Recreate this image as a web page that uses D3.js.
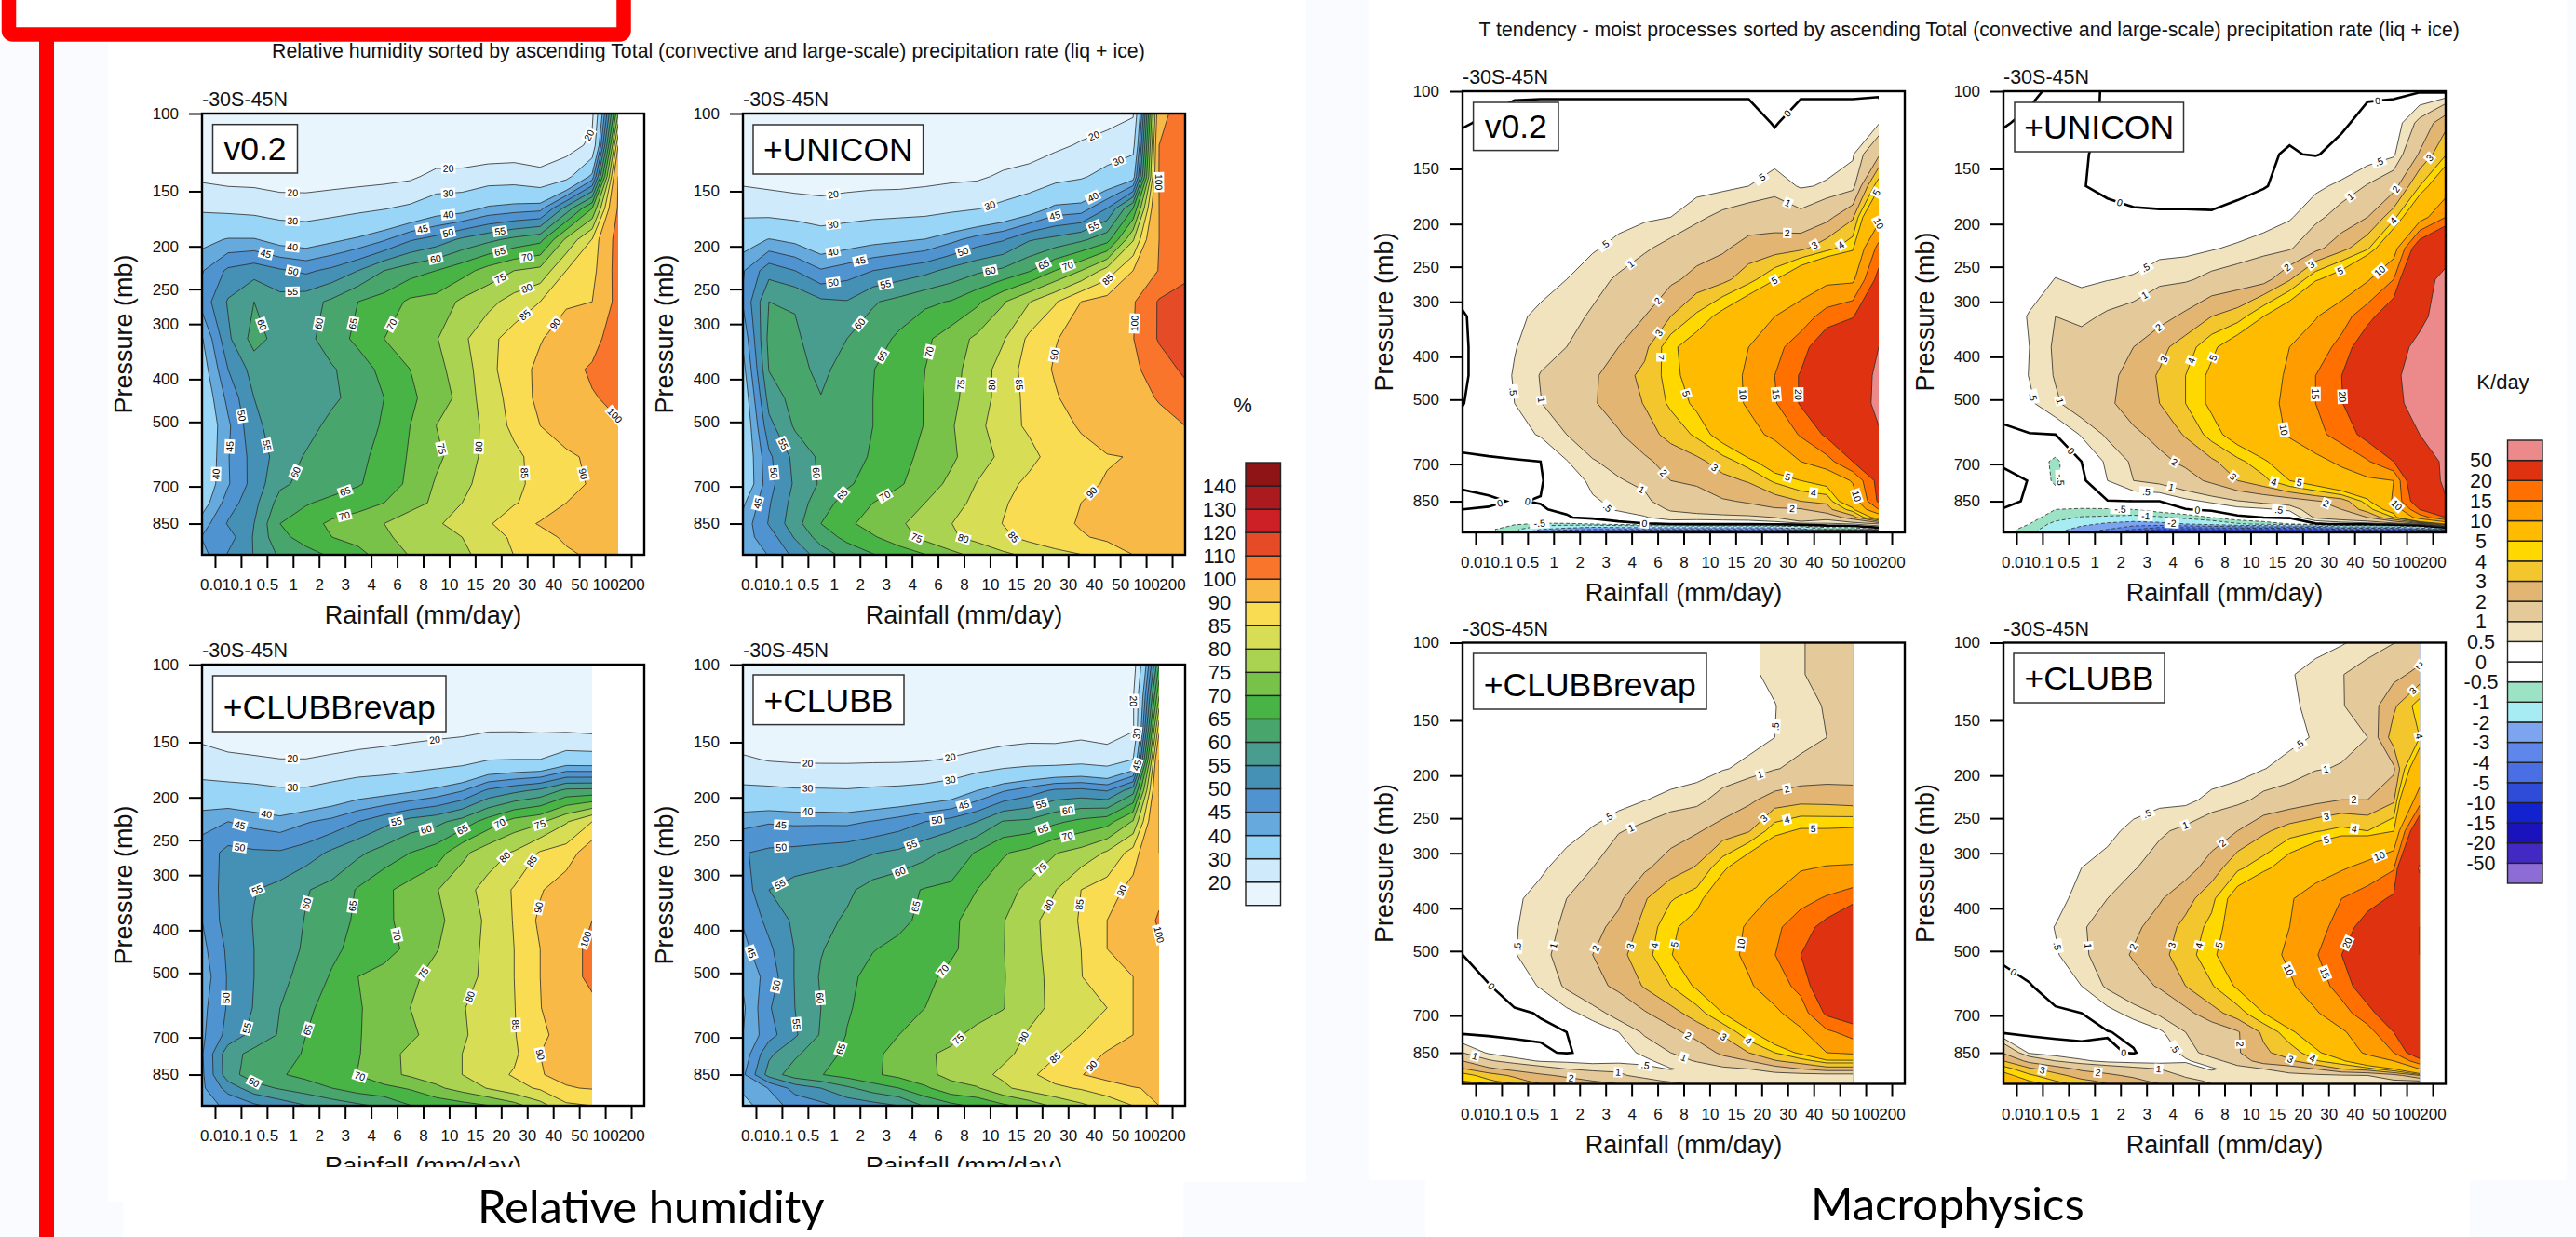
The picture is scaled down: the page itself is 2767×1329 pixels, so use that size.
<!DOCTYPE html>
<html>
<head>
<meta charset="utf-8">
<script src="https://cdn.jsdelivr.net/npm/d3@7"></script>
<style>
html, body { margin: 0; padding: 0; background: #fafbfe; }
svg { display: block; font-family: "Liberation Sans", Arial, sans-serif; }
</style>
</head>
<body>
<div id="chart"></div>
<script>
const rainTicks = ['0.01','0.1','0.5','1','2','3','4','6','8','10','15','20','30','40','50','100','200'];
const pressureTicks = [100,150,200,250,300,400,500,700,850];
const rhRows = [100,118,139,164,193,227,267,324,380,441,510,600,691,763,850,912,1000];
const tRows = [100,118,139,164,193,227,267,324,380,441,510,600,691,763,850,887,925,957,985,1000];

const rhLevels = [20,30,40,45,50,55,60,65,70,75,80,85,90,100,110,120,130,140];
const rhColors = ['#e8f5fc','#cfeafb','#98d5f6','#65a9dd','#4f93d0','#4590b5','#489d8f','#48a66c','#47b445','#79c24a','#a9d350','#d8dd56','#fadc52','#f8b946','#f9752b','#e54b26','#cc1f26','#ab1a1e','#8f1415'];
const tLevels = [-50,-20,-15,-10,-5,-4,-3,-2,-1,-0.5,0,0.5,1,2,3,4,5,10,15,20,50];
const tColors = ['#8d6cd6','#4229c4','#1a12bc','#1322cf','#2e4cd8','#4a6fe4','#5f86ea','#7da5ef','#a6ecf2','#9be3c4','#ffffff','#ffffff','#f1e3bd','#e4c99b','#e3b572','#f4c62e','#ffd800','#ffbb00','#ff9d00','#ff7000','#df3211','#ec8a8b'];

const rhV02 = [
[10,10,10,10,10,10,10,10,10,10,10,10,10,10,12,18,75],
[12,12,12,12,12,12,12,12,12,12,12,12,13,13,16,22,90],
[18,16.5,16.3,14.7,14.6,15.5,16.2,17,18.3,22.8,23,25.5,25.7,23,27,42,100],
[28.8,27.9,27,25.4,25.2,26.4,28,29.5,31.8,36,37.2,41,42.4,43.3,57,70,101],
[38,40.5,40.5,37.5,36.5,38.7,41,44.4,49.4,52,56,58.7,61.4,63.5,76,85.2,104],
[44.6,51,53,50.7,49,51.3,55,60,62.8,65,68,72,75,76.5,85,87.3,104],
[47,55.5,60,57,58,61,65,67,71,71.8,76,78.5,82,85,89.5,90,103],
[39.5,54,62,58,58.5,62.6,66.2,70,72.3,74.7,78.9,83.6,87,89.7,92,94,110],
[37,50,57,57,58,59.5,62.5,66.5,70,73.5,77.5,83.4,88,91,95,102,106],
[35,46.5,55,57,58,59,62,65,69,72.5,76.5,83,86.5,91.5,94,99,103],
[34,44,54,57,58,61.5,63,65.5,70,75,78,81,86.5,90,92,94.5,99],
[34,44.7,52,57,60.5,62,63.5,67,70.5,74,77.5,81.5,83.5,87.5,89.3,90.7,97],
[35,44.5,52,59,61.5,62.5,64.5,67.5,71,75.5,78.5,82.5,83.5,87,88.5,90.5,94],
[37,47.5,53.5,62,64.5,66.5,68,70,73,76,80,82,84.7,86.5,90,91,92],
[42.5,50.5,55,65,68,71,72.5,75,78,79.5,81.5,84.5,87.5,90.5,92,93,93],
[45.3,47.7,55.5,63.6,67,70,71.5,74,77,78.5,80,82.5,86,88,91,92,92],
[43,50.5,55.2,60.8,63.2,65.8,68.6,72,75.3,77.2,79,81.8,85.1,87,89,91,92]];

const rhUnicon = [
[10,10,10,10,10,10,10,10,10,10,11,12,13,14,15,19,97,105],
[12,12,12,12,12,12,12,12,13,13,14,15,18,21,24.5,27,100,108],
[17,16,15,14.5,15.5,16,16,17,18,18.5,21.5,23.5,27,29,33,37,100.5,109],
[27,25.7,24.5,23.5,24.5,25.5,26,26.5,28,29.5,32.5,36,41.5,42.3,50,65,100,107],
[36.7,40.3,38.5,35,36.5,38,39,40.2,43.5,47.2,49.5,54.5,56.5,59,63,79.5,100,106],
[44.5,53,50,45.5,47.5,50,51.7,53.5,56.5,59,61,64.5,70,75,82,90,100.5,106],
[45.5,60,59.5,56,55.3,59.5,61.5,64,65.3,69,74.5,79.7,84.5,90,92,99,111,116],
[41,61.5,61,57,60,62.5,66,69,72.5,76,79.5,86,89.7,92,95,99.7,111,118],
[38,60.2,62,58.5,62.5,64.8,68,70,73.5,77,82.2,87,90.5,93,95.5,98,105,112],
[35.5,57,62,60.2,62.5,65,67.5,70.2,73.8,77.5,82,86.5,89.5,92.5,95,97.5,100.5,106],
[34,53.5,60.7,62.5,63.5,65,67.5,70.2,74.5,78.5,83,85.8,88.2,90.5,93,95,98,100],
[34,49,56.5,61,63.2,65.5,68,71.5,74,78,81,83.5,87,88.5,89.7,90.2,92,93],
[34,48.2,55.8,60.7,64.3,67,69.4,72.5,76.2,80.2,83.2,86.2,87.7,89.2,90.3,92,93,93],
[39,49.5,57,62.8,67,70,72.5,75,77.7,81.5,84.6,86.5,88.2,90,92,93,93.5,93.5],
[42,50.4,58,65,69,72,74.3,77,79.9,82.4,85.1,86.8,88.5,90.5,92.5,94,94,94],
[43,47.5,55.5,62.2,66.5,69.5,72.5,76.5,79.3,81.5,84,86.5,88.5,89.5,91,92.5,93,93],
[42,45.2,51.3,57.5,61.7,64.7,67.5,69.8,73.5,76.4,79,81,83.2,84.9,87,90,91,91]];

const rhRevap = [
[10,10,10,10,10,10,10,10,10,10,10,10,10,10,10,10],
[12,12,12,12,12,12,12,12,12,12,12,12,12,12,12,12],
[16.5,15,14.5,14,14,15,15.5,16,16.5,17,17.5,18.5,18.5,18,17.5,16.5],
[23.2,21.5,20.8,20.1,20.1,21,22,22.7,23.8,25,26.2,29.5,30,30,34.8,34.5],
[33.7,33.3,32.5,31.2,31.2,33.5,36,37.2,39,41.4,44.7,51,53.7,56.2,61.3,61.6],
[43.5,45,43.3,42,44.5,46.5,50,53.5,57,58.6,62,67.2,72,74,79.5,85],
[47,51.5,50.8,50.6,52.4,56,59,62,65,67.5,73.7,78,80.5,85.5,87.2,93.5],
[47.5,51.5,54.8,56.5,59.7,61.5,65.5,69,71.8,74.7,78.4,81.5,85.5,89.5,93,98],
[45,52.5,55.2,57,60.3,62.5,66,69.3,71.2,74,77,81,85.3,91,96,100],
[43.5,51,55,56.8,61,64,66.5,68,71.3,74.7,78,81,85,90,95,103],
[42,50.5,55,58.5,62,65.5,70,71.8,74,76.5,78.5,81,85,90,95,103],
[43.5,50.6,55.3,60,63.7,67.5,69.6,72,75,77.5,79.7,82,84.8,89.8,94,97],
[44,51.7,56.8,60.5,65,67.8,69.7,72,74,77,79.5,81.7,84.7,88.7,92.5,93],
[44.5,58,61.5,63,65.5,66.7,69.7,73,76.2,78.2,80,82.5,84,90,91,91.5],
[44,58,62.5,64.5,66.5,68.7,70.2,73.4,75.8,77.5,80,83,85.5,89.8,91,91],
[44,52,58,60.5,62.5,65,67.5,68.7,70.5,74,77,80.3,83.3,85.7,89.7,90.3],
[43,46,49,52,54.8,57,59,61,64.8,66.5,68,69.8,73,78,84,85]];

const rhClubb = [
[10,10,10,10,10,10,10,10,10,10,10,10,10,10,11,15,65],
[10,10,10,10,10,10,10,10,10,10,10,10,10,10,12,19,75],
[12,10.5,10,10,10,10,10,10.5,11.5,13,14.5,15,15,16,15,18.5,88],
[21.4,19.3,18.6,18.4,18.4,18.6,18.7,19.2,20.7,22.5,24,25.2,25,26.3,24.5,30,100],
[32,31.8,31,31,30.7,31.5,32,33,35,40,44.5,47.5,51,51.5,49.7,58,100],
[43.5,44.5,44,44,43.8,45.3,47.3,50,52,55,60.3,61,64,66.3,68,75.5,100],
[49.7,51,51.5,52.3,53.2,54.7,56,58.5,61.5,65.5,69.5,71.5,74.7,76.8,80.7,87,100],
[47,55,57,58,59,62,63.7,65.3,66,70,73,76.3,79.8,85,87.3,92,98],
[45.5,51.5,56,58.5,60.7,62.7,64,66,69,72,74.7,78.8,81.7,85.5,90,94,101],
[43.5,49,55.2,59.7,62,64.8,66,67.5,69.3,71.8,74.8,78.5,81.7,85,90,95,99],
[41,47,55.3,60.5,64,66.3,67.7,69,71,72.8,74.7,78,81.5,84.8,89,90,96],
[39,49.5,55,60,64.5,66.8,68.3,70,71.7,73,74.8,78.5,81,83.3,85,90,93],
[40,48,54.3,60.5,65.2,68,70,72.5,74,76.3,77.5,80.5,83,85,87.5,90,92],
[41.5,54,59,63.5,65.7,69,71.5,74.5,75.7,77.3,79,81.3,84.5,87.5,90.5,91,91.5],
[44,57,62.8,64.8,67,69.2,71.5,73.9,76.2,78.6,80.9,84,87.2,89.8,92,92,92],
[41,45.2,52,55,59,62.5,65,69,73.5,74.5,79,82,84,85.5,87.5,89.8,90.5],
[38,43,46.5,48.5,51.5,53,55,60.5,63.5,66,69,72,76,79,82,85,90]];

const tV02 = [
[-.1,-.1,-.1,-.1,-.1,-.1,-.1,-.1,-.1,-.1,-.1,-.1,-.1,-.1,-.1,-.1,-.1],
[-.03,.05,.25,.3,.3,.3,.3,.3,.3,.3,.3,.3,-.05,.3,.3,.3,.45],
[.15,.2,.2,.2,.2,.2,.2,.2,.2,.25,.25,.3,.3,.3,.3,.45,1.8],
[.1,.15,.2,.2,.2,.2,.2,.25,.25,.3,.35,.5,.74,.45,.55,.7,4.7],
[.1,.15,.2,.2,.25,.3,.35,.42,.5,.85,1.2,1.43,1.5,1.2,1.7,2.85,8.4],
[.1,.15,.2,.2,.3,.45,.63,.9,1.25,1.6,1.85,2.4,2.5,2.75,3.6,4.7,16.6],
[.1,.1,.2,.25,.5,.75,1.1,1.5,1.8,2.3,2.7,3.6,4.9,6.8,8.7,9,22],
[-.02,.1,.35,.65,.75,1.1,1.6,2,3,4.2,5.5,7,10,12.5,17,19.5,30],
[-.03,.1,.47,.8,1,1.4,2,2.7,4.7,5.8,8.5,10,13.5,17.5,25,30,50],
[-.03,.1,.55,1.03,1.5,1.85,2.5,3.3,4.4,6,8.5,10.5,15,20.5,27,35,55],
[-.01,.15,.5,.98,1.4,1.9,2.45,3.05,4.2,5.3,8,10.5,14.5,20.5,28,38,55],
[.1,.2,.3,.55,1,1.4,1.9,2.6,3.3,4.2,5.7,8.5,11,15.5,21,32,48],
[-.05,-.05,-.03,0,.47,.95,1.2,1.8,2.4,2.7,3.5,4.5,6.2,10,13,20,30],
[-.04,-.05,-.05,-.03,.25,.6,.95,1.15,2,2.15,2.7,3.1,4.2,5,5.7,10.5,22],
[.05,.02,-.01,.01,.1,.45,.6,.85,1.4,1.6,1.9,2.1,2.4,3,3.2,7,21],
[0,-.01,-.01,-.02,.05,.4,.55,.75,1.05,1.3,1.5,1.7,1.9,1.9,2.6,4.5,15],
[-.1,-.1,-.15,-.15,-.03,.1,.3,.45,.8,.7,.75,.8,1,2,1.3,2.5,6],
[-.2,-.3,-.45,-.55,-.55,-.5,-.2,-.05,0,.1,.1,.1,.2,.3,.4,.5,1],
[-.3,-.4,-.8,-2,-2.5,-3,-3,-3,-3,-3,-3,-3,-3,-2.5,-1,-1,-.5],
[-.3,-.4,-.6,-4,-5,-5,-6,-7,-8,-8,-8,-7,-8,-10,-12,-12,-15]];

const tUnicon = [
[-.1,-.05,.05,.05,-.02,-.05,-.05,-.05,-.05,-.05,-.05,-.05,-.05,-.05,-.05,-.05,-.05,-.1],
[-.02,.05,.1,.1,-.05,-.05,-.05,-.05,-.05,-.05,-.05,-.05,-.05,-.05,.1,.15,1.2,2.7],
[.1,.1,.1,.02,-.05,-.05,-.05,-.05,-.05,-.05,-.03,.02,-.02,.1,.2,.4,2.1,3.9],
[.1,.1,.15,.01,-.05,-.05,-.05,-.05,-.05,-.05,-.02,.1,.4,.6,1.05,1.6,4,7],
[.1,.1,.15,.2,.075,.024,.0175,.0175,.015,.06,.2,.45,.8,1.35,2,3.6,7.5,15],
[.1,.15,.2,.25,.25,.25,.3,.35,.45,.6,.8,.9,1.7,2.65,3.8,7.5,25,33],
[.1,.2,.52,.4,.48,.55,.85,.9,1.2,1.4,1.6,2.9,4.8,6,9.5,15,35,60],
[.1,.55,1,.85,1.1,1.3,1.65,2.2,3,3.5,5,6.5,9.7,13,18,25,40,70],
[.1,.5,1.1,1.3,1.5,2,2.7,3.5,4.7,6,7.5,10,12.5,16.5,25,35,60,75],
[.1,.52,1.05,1.4,1.7,2.4,3.1,4,5.3,6.5,8.5,10.5,15,20,30,42,70,80],
[.1,.4,.9,1.4,1.8,2.5,3,4,5.3,6.6,8.5,11,15,19.5,30,40,65,80],
[-.05,-.02,0,.55,1.1,1.8,2.3,3.1,4.4,5.8,7.8,10.5,13.5,17,22,30,50,70],
[-.05,-.2,-.6,0,.6,1.1,1.75,2.2,2.8,3.7,4.7,6.5,8.5,11,14.5,20,35,55],
[.1,-.01,-.6,-.1,.5,1,1.2,1.6,2.2,3,3.7,5,6,7.5,9,10,30,55],
[.1,-.05,-.2,-.15,-.02,0,0,.35,.6,.95,1.2,1.4,1.9,2.4,4.5,10.5,25,48],
[-.02,-.3,-.5,-.55,-.55,-.5,-.2,-.02,.1,.3,.4,.6,1.5,2,3.5,6,20,35],
[-.1,-.3,-.75,-1.05,-1.1,-1.2,-1.1,-.8,-.5,-.1,0,.05,1.1,1.5,2,4,12,20],
[-.2,-.5,-1.2,-1.7,-2.2,-2.5,-2.3,-2,-1.6,-1.1,-.8,-.5,-.1,.1,.2,.5,1,5],
[-.3,-.7,-1.5,-2.5,-3,-4,-5,-5,-5,-5,-5,-5,-5,-4,-4,-4,-3,-3],
[-.3,-.8,-1.8,-3,-4,-6,-8,-8,-9,-10,-10,-10,-10,-10,-11,-12,-14,-16]];

const tRevap = [
[.1,.1,.1,.1,.1,.1,.1,.1,.1,.2,.3,.4,.63,.95,1.25,1.4],
[.1,.1,.1,.1,.1,.1,.1,.1,.1,.2,.3,.4,.63,.95,1.25,1.4],
[.1,.1,.1,.1,.1,.1,.1,.1,.1,.2,.25,.35,.48,.8,1.05,1.3],
[.1,.1,.1,.1,.1,.1,.1,.1,.1,.15,.2,.3,.5,.78,1,1.3],
[.1,.1,.1,.1,.1,.1,.1,.1,.2,.3,.45,.65,.95,1.2,1.4,1.5],
[.1,.1,.1,.1,.15,.2,.25,.48,.65,.75,1.35,1.8,2.4,2.65,2.6,2.45],
[.1,.1,.1,.2,.3,.55,.95,1.2,1.55,1.9,2.4,2.9,4.6,5.2,5.2,5.3],
[.1,.1,.2,.4,.75,1,1.6,1.85,2.5,3.1,4.7,6.4,7.5,9.6,10.3,10.5],
[.1,.1,.4,.7,1,1.4,1.8,2.9,3.9,4.5,6.5,8.5,10.5,13.5,15.5,17.5],
[.1,.15,.45,.8,1.1,1.7,2.3,3.3,4.7,5.7,8,10.5,14,17.5,22,30],
[0,.2,.47,.8,1.3,2,2.7,3.6,4.9,6.5,8.2,11,14.9,20,30,40],
[-.1,-.02,.2,.55,1.1,1.7,2.2,3.1,4,5.2,7,9.4,12.5,16.5,26,35],
[-.1,-.1,-.05,.02,.35,.7,1.3,1.9,2.6,3.5,5,6.8,9,12.5,21,24],
[-.1,-.1,-.1,-.05,0,.2,.5,1.1,1.7,2.4,3.2,4.7,6.5,9.2,14,17],
[1,.42,.2,.05,-.03,.1,.3,.6,1,1.4,2.2,3,4,5.3,10,11],
[2,1.1,.7,.45,.4,.35,.35,.4,.7,1.05,1.6,2,2.9,3.5,4.5,4.5],
[3.1,2.2,1.7,1.3,1,.8,.9,.6,.48,.6,.8,1,1.5,2,2.5,2.5],
[4.5,3.5,2.8,2.2,1.8,1.5,1.1,.8,.7,.7,.7,.6,.55,.55,.55,.55],
[5,4.2,3.4,2.6,2.4,2,1.5,1.2,.9,.8,.7,.6,.6,1,.9,.55],
[5.5,5,4,3,3,2.5,2,1.8,1.2,.9,.8,.6,.6,.5,.5,.5]];

const tClubb = [
[.1,.1,.1,.1,.1,.1,.1,.1,.1,.1,.15,.2,.3,.45,.7,.98,1.25],
[.1,.1,.1,.1,.1,.1,.1,.1,.1,.1,.15,.45,.7,.97,1.3,1.7,2.3],
[.1,.1,.1,.1,.1,.1,.1,.1,.1,.1,.15,.4,.65,.95,1.4,2.8,4.5],
[.1,.1,.1,.1,.1,.1,.1,.1,.1,.1,.15,.35,.55,.8,1,3.5,4],
[.1,.1,.1,.1,.1,.1,.1,.1,.2,.3,.48,.7,.95,1.05,1.4,1.8,7],
[.1,.1,.1,.1,.15,.25,.35,.35,.65,.8,1.2,1.35,1.7,2,2,2.8,12],
[.1,.1,.1,.25,.35,.65,.9,1.15,1.5,2,2.8,3.5,3.9,4.3,4,4.9,28],
[.1,.1,.15,.5,.7,.95,1.3,1.6,2.4,3.8,4.6,6,7.5,9.5,11.5,14.5,52],
[.1,.1,.3,.7,1,1.4,1.9,2.6,3.7,5.8,8,9.5,12.5,15,17.5,21,40],
[.1,.2,.52,.9,1.4,1.8,2.4,3.3,4.3,5.9,8,10,13,17,23,35,50],
[.05,.15,.45,.8,1.5,2.1,2.7,3.5,4.7,6.2,8.2,10.8,14.5,20,28,40,50],
[-.1,-.02,.15,.5,1.1,1.6,2.1,3,3.9,5.2,7,9.3,12.5,17,24,35,45],
[-.1,-.1,-.05,0,.3,.7,1.1,1.7,2.6,3.5,5,7,9.5,13,18,25,35],
[-.1,-.1,-.1,-.08,-.02,.1,.4,1,1.3,1.9,3.2,4.6,6.5,9.3,13,20,30],
[1.9,.4,.2,.1,.05,-.03,.25,.6,1.4,1.9,2.8,3.5,4.6,6.5,11,15,25],
[3,1.7,1,.6,.35,.3,.3,.45,.7,1.4,2.5,2.8,3.9,4.7,7,10,18],
[4.5,3.2,2.5,1.8,1.5,1.2,1,.7,.45,.7,1,1.5,2,3,3.5,5,10],
[5.5,4.2,3.3,2.6,2.2,1.8,1.4,.9,.7,.65,.65,.7,.8,.9,1,1.5,3],
[6,5,4,3.2,2.8,2.3,1.7,1.2,.9,.8,.7,.7,.7,.8,.8,.9,1],
[6.5,5.5,4.5,3.5,3,2.5,2,1.5,1,.9,.8,.7,.7,.7,.7,.8,.8]];

// contour labels: [level, rain column, pressure]
const rhV02Labels = [[20,3.48,151],[30,3.48,176],[40,3.48,200],[50,3.48,230],[55,3.48,255],[45,2.45,208],[20,9.47,133],[30,9.47,153],[40,9.47,170],[50,9.47,187],[45,8.48,183],[60,8.98,213],[55,11.46,185],[65,11.46,206],[75,11.46,236],[70,12.5,214],[80,12.5,250],[85,12.5,290],[90,13.55,299],[20,15,113],[60,2.48,299],[60,4.44,299],[65,5.76,299],[70,7.13,297],[50,1.46,485],[45,1.15,569],[55,2.28,569],[40,.71,657],[60,3.67,653],[65,5.48,711],[70,5.48,817],[75,9.09,577],[80,10.54,569],[85,12.52,653],[90,14.77,653],[100,15.96,478]];
const rhUniconLabels = [[20,3.48,154],[30,3.48,181],[40,3.48,208],[50,3.48,243],[45,4.51,216],[55,5.5,246],[20,13.46,111],[30,9.49,161],[30,14.48,130],[40,13.49,156],[45,12,171],[55,13.49,180],[50,8.5,209],[60,9.49,224],[65,11.48,215],[70,12.47,220],[85,14,237],[100,16.13,143],[60,4.48,299],[65,5.27,352],[70,7.18,347],[90,11.93,352],[100,15.09,299],[75,8.43,412],[80,9.7,412],[85,10.6,412],[55,1.35,569],[50,1.14,653],[60,2.75,653],[45,.66,767],[65,3.85,733],[70,5.5,743],[90,13.44,725],[75,6.66,920],[80,8.47,920],[85,10.36,920]];
const rhRevapLabels = [[20,3.48,164],[30,3.48,189],[40,2.48,218],[45,1.46,231],[50,1.46,257],[20,8.98,153],[55,7.5,230],[60,8.6,234],[65,9.97,234],[70,11.5,232],[75,13,231],[80,11.5,268],[85,12.5,274],[55,1.99,316],[60,4.3,352],[65,5.76,352],[70,7.35,412],[75,8.48,499],[90,12.62,352],[100,14.37,412],[50,.94,570],[80,10.44,570],[55,1.35,657],[65,3.56,657],[85,11.74,657],[90,12.95,767],[70,6.03,869],[60,1.97,891]];
const rhClubbLabels = [[20,2.49,168],[30,2.49,189],[40,2.49,216],[45,1.47,229],[50,1.47,256],[20,7.97,162],[30,7.97,182],[45,8.5,209],[50,7.48,230],[55,6.49,256],[60,6,291],[55,11.48,208],[60,12.5,217],[65,11.52,234],[70,12.5,248],[75,11.48,290],[90,14.45,323],[55,1.47,318],[65,6.46,351],[80,11.76,351],[85,13.16,351],[100,15.96,427],[45,.4,448],[50,.89,528],[60,2.75,571],[70,7.48,481],[55,1.71,657],[65,3.44,731],[75,8.5,728],[80,10.77,698],[85,11.9,767],[90,13.25,796],[20,14.95,121],[30,15,143],[45,15,168]];
const tV02Labels = [[0,12.48,112],[.5,11.53,159],[1,12.45,182],[2,12.48,214],[3,13.55,224],[4,14.5,221],[5,15.78,168],[10,16,198],[.5,5.55,226],[1,6.5,248],[2,7.49,298],[3,7.6,355],[4,8,401],[5,12,269],[.5,1.87,480],[1,3.06,501],[5,8.48,487],[10,10.75,487],[15,11.98,487],[20,12.83,487],[2,7.73,733],[3,9.62,723],[5,12.45,768],[4,13.48,820],[10,15.14,828],[1,6.74,830],[.5,5.51,887],[2,12.66,923],[-.5,2.96,952],[0,7,952],[0,2.49,856],[0,1.5,883]];
const tUniconLabels = [[0,14.44,112],[.5,14.48,147],[3,16.47,143],[2,15.17,168],[1,13.45,177],[4,14.97,196],[0,4.48,178],[.5,5.49,253],[1,5.47,293],[2,10.96,253],[3,11.96,253],[5,12.95,256],[10,14.48,256],[2,5.99,344],[3,6.24,407],[4,7.31,410],[5,8.29,407],[.5,1.29,490],[1,2.24,502],[15,11.82,486],[20,12.93,493],[10,10.95,583],[0,2.57,656],[-.5,2.42,759],[2,6.55,696],[3,8.95,734],[4,10.46,748],[5,11.41,752],[10,15.09,870],[2,12.44,849],[1,6.43,797],[.5,5.49,815],[0,7.46,886],[.5,10.58,897],[-.5,4.49,889],[-1,5.47,920],[-2,6.47,955]];
const tRevapLabels = [[.5,12.03,155],[1,11.49,203],[2,12.48,216],[3,11.5,247],[4,12.48,253],[5,13.48,266],[.5,5.54,245],[1,6.5,265],[.5,2.25,489],[1,3.36,484],[2,4.9,486],[3,6.39,486],[4,7.45,486],[5,8.37,486],[10,10.85,484],[0,1.23,590],[2,8.73,767],[3,9.97,791],[4,10.96,803],[1,.48,865],[2,4.2,944],[1,5.98,938],[.5,7,925],[1,8.48,877]];
const tClubbLabels = [[.5,5.54,245],[1,7,260],[2,8.41,284],[1,12.45,203],[.5,11.46,173],[2,13.47,226],[3,12.45,254],[4,13.47,270],[5,12.48,290],[10,14.46,305],[2,15.95,110],[3,15.98,133],[4,15.95,163],[.5,2.17,486],[1,3.31,486],[2,4.9,486],[3,6.53,486],[4,7.56,486],[5,8.44,486],[20,13.36,484],[10,10.81,557],[15,12.12,568],[0,.48,548],[.5,6.67,825],[2,8.97,813],[3,11,887],[4,11.81,893],[0,4.48,877],[3,1.47,948],[2,3.63,944],[1,5.96,940]];

const width = 2767, height = 1329;
const plotW = 475, plotH = 474;

const svg = d3.select('#chart').append('svg')
    .attr('width', width)
    .attr('height', height);

// pasted slide backgrounds
[[116,0,1287,1270],[116,1270,1155,21],[132,1291,1139,38],[0,0,677,46],[1470,0,1287,1268],[1531,1268,1122,61]].forEach(r => {
    svg.append('rect').attr('x', r[0]).attr('y', r[1]).attr('width', r[2]).attr('height', r[3]).attr('fill', '#fff');
});

function levelText(v) {
    if (v === 0.5) return '.5';
    if (v === -0.5) return '-.5';
    return String(v);
}

function drawPanel(p, idx) {
    const g = svg.append('g');
    const rows = p.rows, grid = p.grid;
    const cols = grid[0].length;

    const x = d3.scaleLinear().domain([0, rainTicks.length]).range([p.left, p.left + plotW]);
    const y = d3.scaleLog().domain([100, 1000]).range([p.top, p.top + plotH]);
    const rowY = d3.scaleLinear().domain(d3.range(rows.length)).range(rows.map(d => y(d)));

    const contours = d3.contours()
        .size([cols, rows.length])
        .thresholds(p.levels)
        .smooth(true)(grid.flat());

    const path = d3.geoPath(d3.geoTransform({
        point(px, py) {
            this.stream.point(x(px - 0.5), rowY(py - 0.5));
        }
    }));

    const clipId = 'clip' + idx;
    g.append('clipPath').attr('id', clipId).append('rect')
        .attr('x', x(0)).attr('y', y(100))
        .attr('width', x(cols - 1) - x(0)).attr('height', plotH);

    const field = g.append('g').attr('clip-path', `url(#${clipId})`);
    field.append('rect')
        .attr('x', x(0)).attr('y', y(100))
        .attr('width', x(cols - 1) - x(0)).attr('height', plotH)
        .attr('fill', p.colors[0]);

    field.selectAll('path.fill')
        .data(contours)
        .join('path')
        .attr('class', 'fill')
        .attr('d', path)
        .attr('fill', (d, i) => p.colors[i + 1]);

    field.selectAll('path.line')
        .data(contours)
        .join('path')
        .attr('class', 'line')
        .attr('d', path)
        .attr('fill', 'none')
        .attr('stroke', d => d.value === 0 ? '#000' : '#2b2b2b')
        .attr('stroke-width', d => d.value === 0 ? 2.6 : 0.8)
        .attr('stroke-dasharray', d => d.value < 0 ? '4,2.5' : null);

    // axes
    const bottom = g.append('g')
        .attr('transform', `translate(0,${p.top + plotH})`)
        .call(d3.axisBottom(x)
            .tickValues(rainTicks.map((d, i) => i + 0.5))
            .tickFormat((d, i) => rainTicks[i])
            .tickSize(14).tickSizeOuter(0).tickPadding(12));
    const left = g.append('g')
        .attr('transform', `translate(${p.left},0)`)
        .call(d3.axisLeft(y)
            .tickValues(pressureTicks)
            .tickFormat(d => d)
            .tickSize(14).tickSizeOuter(0).tickPadding(11));
    [bottom, left].forEach(a => {
        a.select('.domain').remove();
        a.selectAll('line').attr('stroke', '#000').attr('stroke-width', 2);
        a.selectAll('text').attr('fill', '#111').style('font-size', '17px').style('font-family', '"Liberation Sans", Arial, sans-serif');
    });

    // contour labels sit on the nearest point of their line
    const bx0 = x(0), bx1 = x(cols - 1), by0 = y(100), by1 = y(1000);
    p.labels.forEach(l => {
        const c = contours.find(d => d.value === l[0]);
        const tx = x(l[1]), ty = y(l[2]);
        let best = null, bestD = Infinity;
        if (c) {
            c.coordinates.forEach(poly => poly.forEach(ring => {
                for (let i = 1; i < ring.length; i++) {
                    const ax = x(ring[i - 1][0] - 0.5), ay = rowY(ring[i - 1][1] - 0.5);
                    const cx = x(ring[i][0] - 0.5), cy = rowY(ring[i][1] - 0.5);
                    const dx = cx - ax, dy = cy - ay, len = dx * dx + dy * dy;
                    if (!len) continue;
                    const t = Math.max(0, Math.min(1, ((tx - ax) * dx + (ty - ay) * dy) / len));
                    const qx = ax + t * dx, qy = ay + t * dy;
                    if (qx < bx0 || qx > bx1 || qy < by0 || qy > by1) continue;
                    const dd = (qx - tx) * (qx - tx) + (qy - ty) * (qy - ty);
                    if (dd < bestD) { bestD = dd; best = [qx, qy, Math.atan2(dy, dx) * 180 / Math.PI]; }
                }
            }));
        }
        if (!best || bestD > 1600) best = [tx, ty, 0];
        let ang = best[2];
        if (ang > 90) ang -= 180;
        if (ang < -90) ang += 180;
        const txt = levelText(l[0]);
        const w = txt.length * 6 + 3.5;
        const lab = g.append('g').attr('transform', `translate(${best[0]},${best[1]}) rotate(${ang})`);
        lab.append('rect').attr('x', -w / 2).attr('y', -5.5).attr('width', w).attr('height', 11).attr('fill', '#fff');
        lab.append('text').attr('text-anchor', 'middle').attr('y', 3.8).attr('font-size', 10.5).attr('fill', '#000').text(txt);
    });

    // frame
    g.append('rect')
        .attr('x', p.left).attr('y', p.top)
        .attr('width', plotW).attr('height', plotH)
        .attr('fill', 'none').attr('stroke', '#000').attr('stroke-width', 2.4);

    g.append('text')
        .attr('x', p.left).attr('y', p.top - 8)
        .attr('font-size', 21.5).attr('fill', '#111')
        .text('-30S-45N');

    g.append('text')
        .attr('transform', `translate(${p.left - 75.5},${p.top + plotH / 2 - 0}) rotate(-90)`)
        .attr('text-anchor', 'middle')
        .attr('font-size', 27).attr('fill', '#111')
        .text('Pressure (mb)');

    g.append('text')
        .attr('x', p.left + plotW / 2).attr('y', p.top + plotH + 74)
        .attr('text-anchor', 'middle')
        .attr('font-size', 27).attr('fill', '#111')
        .text('Rainfall (mm/day)');

    // model name box
    const b = p.box;
    g.append('rect')
        .attr('x', b[0]).attr('y', b[1])
        .attr('width', b[2] - b[0]).attr('height', b[3] - b[1])
        .attr('fill', '#fff').attr('stroke', '#333').attr('stroke-width', 1.5);
    g.append('text')
        .attr('x', (b[0] + b[2]) / 2).attr('y', b[3] - 14)
        .attr('text-anchor', 'middle')
        .attr('font-size', 35.5).attr('fill', '#000')
        .text(p.name);
}

const panels = [
    {left: 217, top: 122, rows: rhRows, levels: rhLevels, colors: rhColors, grid: rhV02, labels: rhV02Labels, name: 'v0.2', box: [228.5,133.7,319.5,186]},
    {left: 798, top: 122, rows: rhRows, levels: rhLevels, colors: rhColors, grid: rhUnicon, labels: rhUniconLabels, name: '+UNICON', box: [809,134,991.6,187]},
    {left: 217, top: 714, rows: rhRows, levels: rhLevels, colors: rhColors, grid: rhRevap, labels: rhRevapLabels, name: '+CLUBBrevap', box: [228.5,726,479,786]},
    {left: 798, top: 714, rows: rhRows, levels: rhLevels, colors: rhColors, grid: rhClubb, labels: rhClubbLabels, name: '+CLUBB', box: [809,725,971,778.6]},
    {left: 1571, top: 98, rows: tRows, levels: tLevels, colors: tColors, grid: tV02, labels: tV02Labels, name: 'v0.2', box: [1582.6,110,1674,161.6]},
    {left: 2152, top: 98, rows: tRows, levels: tLevels, colors: tColors, grid: tUnicon, labels: tUniconLabels, name: '+UNICON', box: [2164,110,2345.5,163]},
    {left: 1571, top: 690.5, rows: tRows, levels: tLevels, colors: tColors, grid: tRevap, labels: tRevapLabels, name: '+CLUBBrevap', box: [1582.6,702,1833,762]},
    {left: 2152, top: 690.5, rows: tRows, levels: tLevels, colors: tColors, grid: tClubb, labels: tClubbLabels, name: '+CLUBB', box: [2163,702,2325,755]}
];
panels.forEach(drawPanel);

// bottom row of the left figure is cut off in the slide
svg.append('rect').attr('x', 132).attr('y', 1254).attr('width', 1139).attr('height', 40).attr('fill', '#fff');

function drawLegend(levels, colors, x0, x1, y0, y1, labelX, fs, unit, unitX, unitY) {
    const n = colors.length;
    const ly = d3.scaleLinear().domain([0, n]).range([y1, y0]);
    const g = svg.append('g');
    g.selectAll('rect')
        .data(colors)
        .join('rect')
        .attr('x', x0)
        .attr('y', (d, i) => ly(i + 1))
        .attr('width', x1 - x0)
        .attr('height', (y1 - y0) / n)
        .attr('fill', d => d)
        .attr('stroke', '#222')
        .attr('stroke-width', 1.4);
    g.selectAll('text.tick')
        .data(levels)
        .join('text')
        .attr('class', 'tick')
        .attr('x', labelX)
        .attr('y', (d, i) => ly(i + 1) + fs * 0.36)
        .attr('text-anchor', 'middle')
        .attr('font-size', fs)
        .attr('fill', '#111')
        .text(d => d);
    g.append('text')
        .attr('x', unitX).attr('y', unitY)
        .attr('text-anchor', 'middle')
        .attr('font-size', 22).attr('fill', '#111')
        .text(unit);
}
drawLegend(rhLevels, rhColors, 1338, 1375.5, 497, 972.7, 1310, 22, '%', 1335, 443);
drawLegend(tLevels, tColors, 2693.5, 2731, 473, 949, 2665, 21.5, 'K/day', 2688.5, 418);

// figure titles and slide captions
svg.append('text').attr('x', 292).attr('y', 62).attr('font-size', 21.3).attr('fill', '#111')
    .text('Relative humidity sorted by ascending Total (convective and large-scale) precipitation rate (liq + ice)');
svg.append('text').attr('x', 1588.5).attr('y', 39).attr('font-size', 21.3).attr('fill', '#111')
    .text('T tendency - moist processes sorted by ascending Total (convective and large-scale) precipitation rate (liq + ice)');
svg.append('text').attr('x', 513).attr('y', 1314).attr('font-size', 49).attr('font-family', 'Lato').attr('fill', '#000').text('Relative humidity');
svg.append('text').attr('x', 1945).attr('y', 1311).attr('font-size', 49).attr('font-family', 'Lato').attr('fill', '#000').text('Macrophysics');

// red annotation frame pasted on the slide
svg.append('rect').attr('x', 9.5).attr('y', -20).attr('width', 660.5).attr('height', 57).attr('rx', 4)
    .attr('fill', 'none').attr('stroke', '#fe0000').attr('stroke-width', 15.5);
svg.append('rect').attr('x', 42).attr('y', 44).attr('width', 16).attr('height', 1285).attr('fill', '#fe0000');
</script>
</body>
</html>
